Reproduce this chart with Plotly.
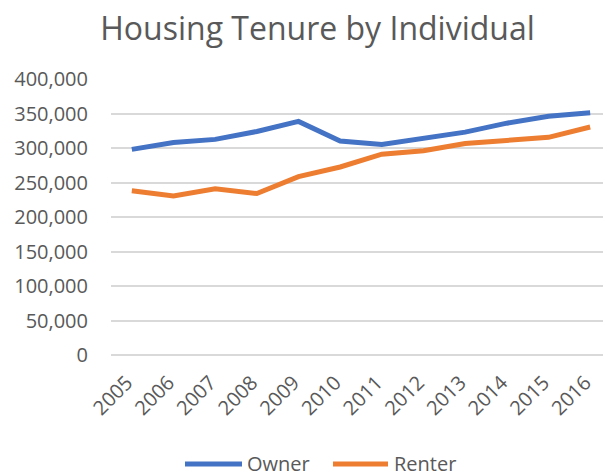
import plotly.graph_objects as go

years = ["2005", "2006", "2007", "2008", "2009", "2010", "2011", "2012", "2013", "2014", "2015", "2016"]
owner = [298000, 308000, 312500, 324000, 338500, 310000, 305000, 314500, 323000, 336000, 346000, 351000]
renter = [238000, 230500, 241000, 234000, 258500, 272500, 291000, 296000, 306500, 310500, 315500, 330500]
ytick_vals = [0, 50000, 100000, 150000, 200000, 250000, 300000, 350000, 400000]
ytick_text = ["0", "50,000", "100,000", "150,000", "200,000", "250,000", "300,000", "350,000", "400,000"]
series_names = ["Owner", "Renter"]
series_colors = ["#4472C4", "#ED7D31"]

FONT = "Open Sans"
GREY = "#595959"
OFF = 8  # page body margin
W, H = 611 - OFF, 476 - OFF
L, R, T, B = 111 - OFF, 0, 79 - OFF, 121
PW = W - L - R
PH = H - T - B


def px(xp):  # page x -> paper x
    return (xp - OFF - L) / PW


def py(yp):  # page y -> paper y
    return 1 - (yp - OFF - T) / PH


fig = go.Figure()
for name, vals, col in zip(series_names, [owner, renter], series_colors):
    fig.add_trace(go.Scatter(x=years, y=vals, name=name, mode="lines",
                             line=dict(color=col, width=5)))

# custom legend (Excel-style long line samples)
legend_items = [(185, 242, 245), (333, 388, 392)]
for (x0, x1, xt), name, col in zip(legend_items, series_names, series_colors):
    fig.add_shape(type="line", xref="paper", yref="paper",
                  x0=px(x0), x1=px(x1), y0=py(464), y1=py(464),
                  line=dict(color=col, width=5))
    fig.add_annotation(text=name, xref="paper", yref="paper", x=px(xt), y=py(463),
                       xanchor="left", yanchor="middle", showarrow=False,
                       font=dict(family=FONT, size=20, color=GREY))

fig.update_layout(
    width=W, height=H,
    margin=dict(l=L, r=R, t=T, b=B, autoexpand=False),
    paper_bgcolor="white", plot_bgcolor="white",
    font=dict(family=FONT, color=GREY, size=20),
    title=dict(text="Housing Tenure by Individual", x=(317.5 - OFF) / W, xanchor="center",
               y=1 - 21 / H, yanchor="middle",
               font=dict(family=FONT, size=32, color=GREY)),
    showlegend=False,
)
fig.update_xaxes(type="category", range=[-0.5, 11.5], tickangle=-45, automargin=False,
                 showgrid=False, showline=False, ticks="",
                 ticklabelstandoff=11, ticklabelshift=-5,
                 tickfont=dict(family=FONT, size=20, color=GREY))
fig.update_yaxes(range=[0, 400000], tickvals=ytick_vals, ticktext=ytick_text, automargin=False,
                 showgrid=True, gridcolor="#D9D9D9", gridwidth=1.5,
                 zeroline=True, zerolinecolor="#D9D9D9", zerolinewidth=1.5,
                 showline=False, ticks="", ticklabelstandoff=22,
                 tickfont=dict(family=FONT, size=20, color=GREY))

fig.write_html("out.html")
